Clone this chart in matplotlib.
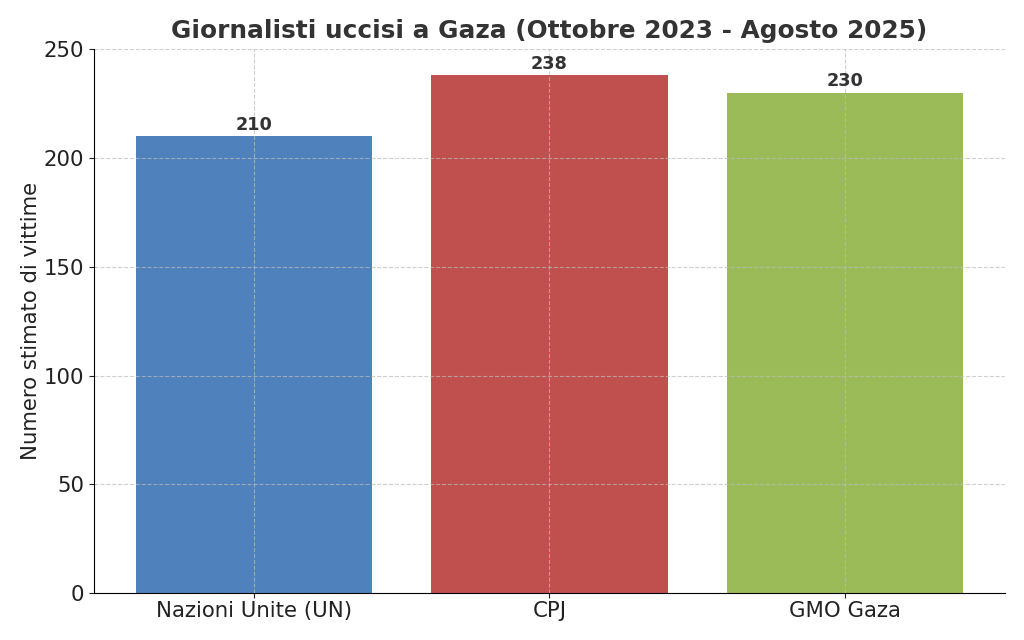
import matplotlib
matplotlib.use("Agg")
import matplotlib.pyplot as plt

# data
sources = ["Nazioni Unite (UN)", "CPJ", "GMO Gaza"]
victims = [210, 238, 230]
colors = ["#4F81BD", "#C0504D", "#9BBB59"]

plt.rcParams['font.family'] = ['DejaVu Sans']

fig, ax = plt.subplots(figsize=(10.24, 6.4), dpi=100)
plt.subplots_adjust(left=0.092, right=0.981, top=0.923, bottom=0.073)

bars = ax.bar(sources, victims, color=colors, width=0.8)
ax.bar_label(bars, padding=2, fontsize=12.7, fontweight='bold', color='#333333')

ax.set_ylim(0, 250)
ax.set_title("Giornalisti uccisi a Gaza (Ottobre 2023 - Agosto 2025)",
             fontsize=17.8, fontweight='bold', color='#333333', pad=8)
ax.set_ylabel("Numero stimato di vittime", fontsize=15.3, color='#222222',
              labelpad=2)
ax.tick_params(axis='both', labelsize=15.3, colors='#222222')
ax.tick_params(axis='x', pad=2)
ax.grid(True, linestyle='--', color='#bbbbbb', alpha=0.7, linewidth=0.8)

for side in ['top', 'right']:
    ax.spines[side].set_visible(False)

fig.savefig("out.png", dpi=100)
